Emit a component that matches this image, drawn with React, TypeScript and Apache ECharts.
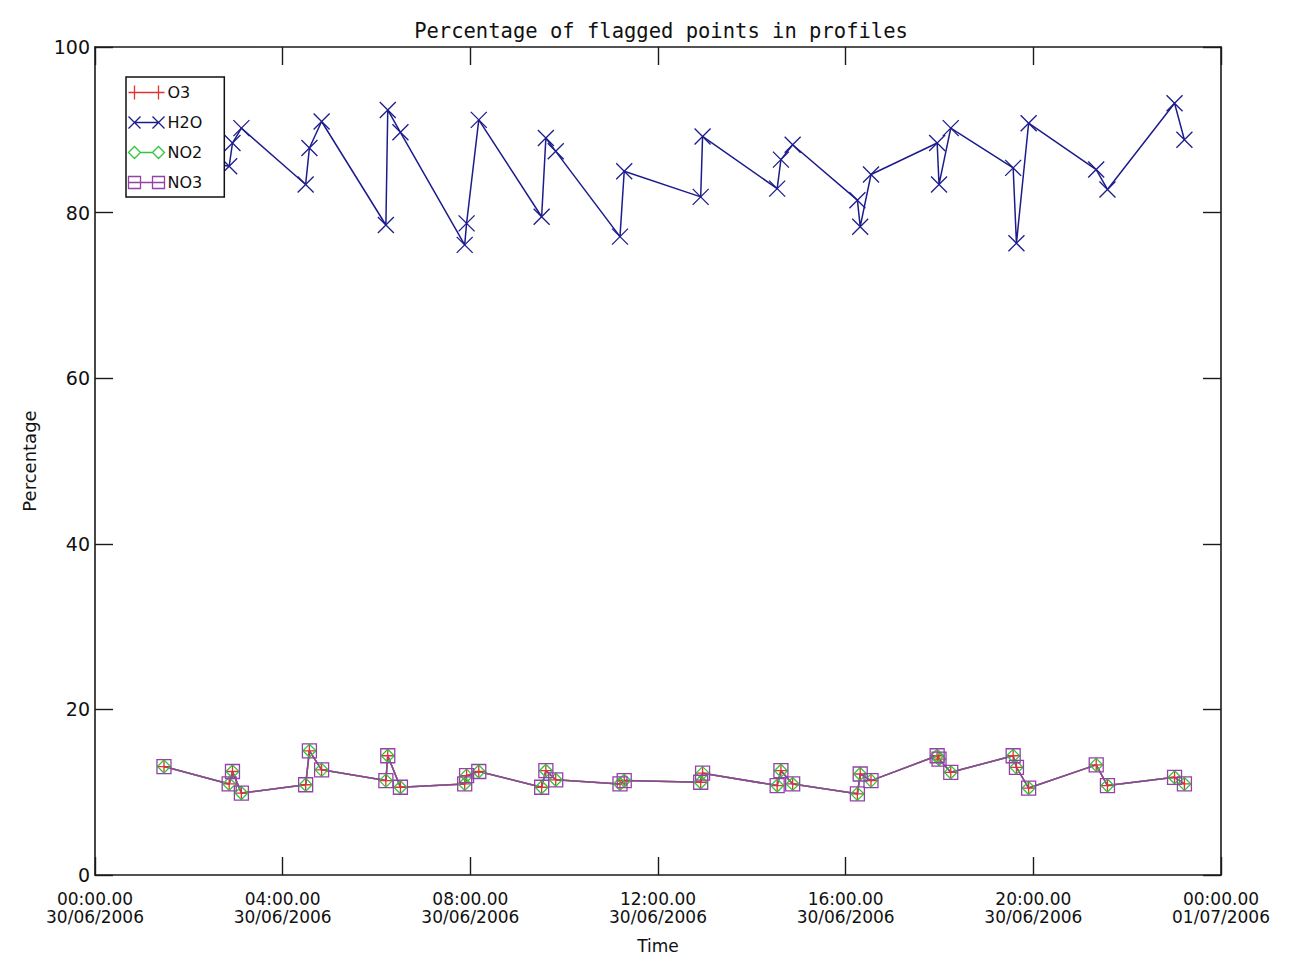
import React, { useEffect, useRef } from "react";
import * as echarts from "echarts";

// Time of each profile, in hours after 00:00 30/06/2006
const timesHours = [
  1.47, 2.86, 2.93, 3.12, 4.49, 4.57, 4.83, 6.2, 6.24, 6.51, 7.88, 7.92, 8.18,
  9.52, 9.61, 9.82, 11.19, 11.28, 12.91, 12.95, 14.54, 14.62, 14.87, 16.25,
  16.31, 16.54, 17.95, 17.99, 18.24, 19.57, 19.64, 19.9, 21.34, 21.58, 23.01,
  23.22,
];

const h2oValues = [
  87.0, 85.6, 88.4, 90.2, 83.4, 87.8, 91.0, 78.5, 92.4, 89.7, 76.1, 78.7, 91.2,
  79.5, 89.0, 87.4, 77.1, 85.0, 81.9, 89.2, 82.9, 86.4, 88.2, 81.5, 78.3, 84.6,
  88.4, 83.4, 90.2, 85.4, 76.3, 90.8, 85.2, 82.8, 93.2, 88.8,
];

const o3Values = [
  13.1, 11.0, 12.5, 9.9, 10.9, 15.0, 12.7, 11.4, 14.4, 10.6, 11.0, 12.0, 12.5,
  10.6, 12.6, 11.5, 11.0, 11.4, 11.2, 12.3, 10.8, 12.6, 11.0, 9.8, 12.2, 11.4,
  14.4, 14.0, 12.4, 14.4, 13.0, 10.5, 13.3, 10.8, 11.8, 11.0,
];

const no2Values = [
  13.1, 11.0, 12.5, 9.9, 10.9, 15.0, 12.7, 11.4, 14.4, 10.6, 11.0, 12.0, 12.5,
  10.6, 12.6, 11.5, 11.0, 11.4, 11.2, 12.3, 10.8, 12.6, 11.0, 9.8, 12.2, 11.4,
  14.4, 14.0, 12.4, 14.4, 13.0, 10.5, 13.3, 10.8, 11.8, 11.0,
];

const no3Values = [
  13.1, 11.0, 12.5, 9.9, 10.9, 15.0, 12.7, 11.4, 14.4, 10.6, 11.0, 12.0, 12.5,
  10.6, 12.6, 11.5, 11.0, 11.4, 11.2, 12.3, 10.8, 12.6, 11.0, 9.8, 12.2, 11.4,
  14.4, 14.0, 12.4, 14.4, 13.0, 10.5, 13.3, 10.8, 11.8, 11.0,
];

const seriesNames = ["O3", "H2O", "NO2", "NO3"];

const xTickLabels = [
  "00:00.00\n30/06/2006",
  "04:00.00\n30/06/2006",
  "08:00.00\n30/06/2006",
  "12:00.00\n30/06/2006",
  "16:00.00\n30/06/2006",
  "20:00.00\n30/06/2006",
  "00:00.00\n01/07/2006",
];

const titleText = "Percentage of flagged points in profiles";
const xName = "Time";
const yName = "Percentage";

const FONT = "DejaVu Sans";
const MONO = "DejaVu Sans Mono";

const COLORS = {
  O3: "#e03232",
  H2O: "#1c1c8c",
  NO2: "#2fc83a",
  NO3: "#9441a8",
};

const SYM = {
  O3: "path://M5,0L5,10M0,5L10,5",
  H2O: "path://M0,0L10,10M0,10L10,0",
  NO2: "path://M5,0L10,5L5,10L0,5Z",
  NO3: "path://M0,0L10,0L10,10L0,10Z",
};

const LEG = {
  O3: "path://M0,7L36,7M6,0L6,14M30,0L30,14",
  H2O: "path://M0,1L12,13M0,13L12,1M24,1L36,13M24,13L36,1M6,7L30,7M0,0M36,14",
  NO2: "path://M0,7L6,1L12,7L6,13ZM24,7L30,1L36,7L30,13ZM12,7L24,7M0,0M36,14",
  NO3: "path://M0,1L12,1L12,13L0,13ZM24,1L36,1L36,13L24,13ZM0,7L36,7M0,0M36,14",
};

function pairs(vals: number[]) {
  return timesHours.map((t, i) => [t, vals[i]]);
}

export default function App() {
  const ref = useRef<HTMLDivElement>(null);

  useEffect(() => {
    if (!ref.current) return;
    const chart = echarts.init(ref.current, null, { renderer: "svg" });

    const valuesByName: Record<string, number[]> = {
      O3: o3Values,
      H2O: h2oValues,
      NO2: no2Values,
      NO3: no3Values,
    };
    const sizes: Record<string, number> = { O3: 13, H2O: 16, NO2: 13, NO3: 14 };

    const axisLine = {
      show: true,
      onZero: false,
      lineStyle: { color: "#1a1a1a", width: 1.6 },
    };
    const tick = {
      show: true,
      inside: true,
      length: 18,
      lineStyle: { color: "#1a1a1a", width: 1.4 },
    };

    const option: any = {
      animation: false,
      backgroundColor: "#ffffff",
      title: {
        text: titleText,
        left: 656,
        top: 15,
        textAlign: "center",
        textStyle: {
          fontFamily: MONO,
          fontSize: 20.5,
          fontWeight: "normal",
          color: "#111",
        },
      },
      legend: {
        orient: "vertical",
        left: 126,
        top: 77,
        padding: [6, 22, 5, 0],
        itemGap: 11,
        itemWidth: 36,
        itemHeight: 14,
        symbolKeepAspect: false,
        backgroundColor: "#ffffff",
        borderColor: "#111",
        borderWidth: 1.5,
        borderRadius: 0,
        textStyle: {
          fontFamily: FONT,
          fontSize: 16,
          color: "#111",
          padding: [0, 0, 0, -2],
        },
        data: seriesNames.map((n) => ({
          name: n,
          icon: (LEG as any)[n],
          itemStyle: {
            color: "none",
            borderColor: (COLORS as any)[n],
            borderWidth: 1.3,
          },
        })),
      },
      grid: { left: 95, right: 72, top: 47, bottom: 83, containLabel: false },
      xAxis: [
        {
          type: "value",
          min: 0,
          max: 24,
          interval: 4,
          position: "bottom",
          name: xName,
          nameLocation: "middle",
          nameGap: 62,
          nameTextStyle: { fontFamily: FONT, fontSize: 17, color: "#111" },
          axisLine,
          axisTick: tick,
          splitLine: { show: false },
          axisLabel: {
            fontFamily: FONT,
            fontSize: 17,
            color: "#111",
            lineHeight: 18,
            margin: 15,
            formatter: (v: number) => xTickLabels[Math.round(v / 4)] ?? "",
          },
        },
        {
          type: "value",
          min: 0,
          max: 24,
          interval: 4,
          position: "top",
          axisLine,
          axisTick: tick,
          splitLine: { show: false },
          axisLabel: { show: false },
        },
      ],
      yAxis: [
        {
          type: "value",
          min: 0,
          max: 100,
          interval: 20,
          position: "left",
          name: yName,
          nameLocation: "middle",
          nameGap: 57,
          nameRotate: 90,
          nameTextStyle: { fontFamily: FONT, fontSize: 18, color: "#111" },
          axisLine,
          axisTick: tick,
          splitLine: { show: false },
          axisLabel: {
            fontFamily: FONT,
            fontSize: 19,
            color: "#111",
            margin: 5,
          },
        },
        {
          type: "value",
          min: 0,
          max: 100,
          interval: 20,
          position: "right",
          axisLine,
          axisTick: tick,
          splitLine: { show: false },
          axisLabel: { show: false },
        },
      ],
      series: seriesNames.map((n) => ({
        name: n,
        type: "line",
        xAxisIndex: 0,
        yAxisIndex: 0,
        data: pairs(valuesByName[n]),
        symbol: (SYM as any)[n],
        symbolSize: sizes[n],
        showSymbol: true,
        showAllSymbol: true,
        lineStyle: { color: (COLORS as any)[n], width: 1.5 },
        itemStyle: {
          color: "none",
          borderColor: (COLORS as any)[n],
          borderWidth: 1.3,
        },
        emphasis: { disabled: true },
        silent: true,
      })),
    };

    chart.setOption(option);
    return () => chart.dispose();
  }, []);

  return (
    <div
      ref={ref}
      style={{
        position: "absolute",
        left: 0,
        top: 0,
        width: 1293,
        height: 959,
        background: "#fff",
      }}
    />
  );
}
